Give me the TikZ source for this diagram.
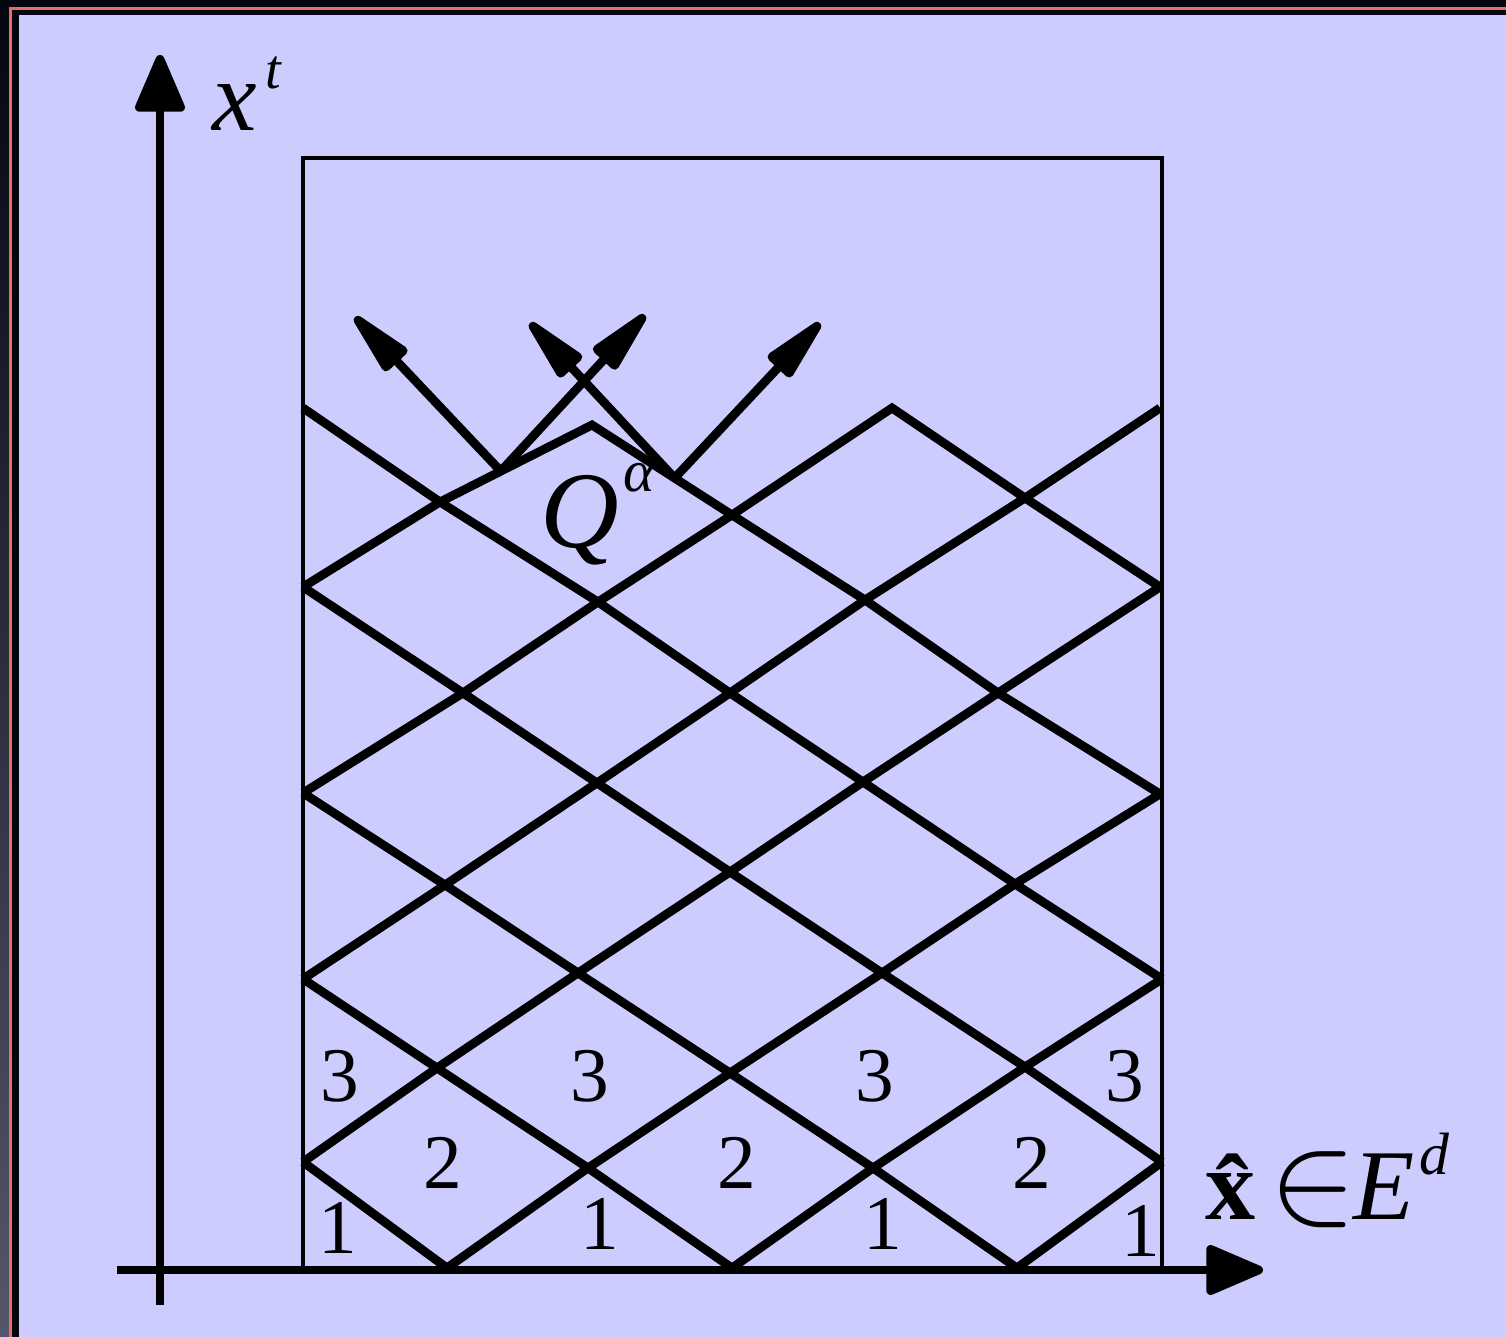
\documentclass[tikz,border=0pt]{standalone}
\usepackage{fontspec}
\usepackage{graphicx}
\setmainfont{Liberation Serif}
\usetikzlibrary{arrows.meta,calc}
\definecolor{slide}{RGB}{204,204,255}
\definecolor{rim}{RGB}{235,110,100}
\definecolor{night}{RGB}{6,6,16}
\definecolor{dusk}{RGB}{85,85,108}

\begin{document}
\begin{tikzpicture}[
    front/.style={line width=2.5pt},
    axis/.style={line width=2.5pt, -{Triangle[length=6.4mm,width=5.2mm,round]}},
    vec/.style={line width=2.5pt, -{Triangle[length=8mm,width=3.2mm,round]}},
    num/.style={font=\fontsize{22pt}{22pt}\selectfont, inner sep=0pt},
    lbl/.style={font=\fontsize{28.5pt}{30pt}\selectfont, inner sep=0pt, anchor=base west}]
    \useasboundingbox (0,0) rectangle (15.06,13.37);
    \fill[night] (0,0) rectangle (15.06,13.37);
    \shade[top color=night, bottom color=dusk] (0,0) rectangle (0.09,13.37);
    \draw[rim, line width=0.03cm] (0.105,-0.1) |- (15.2,13.285);
    \fill[slide] (0.19,0) rectangle (15.06,13.22);

    % domain
    \draw[line width=1pt] (3.03,0.69) rectangle (11.62,11.79);

    % axes
    \coordinate (yb) at (1.60,0.32);
    \coordinate (yt) at (1.60,12.82);
    \coordinate (xl) at (1.17,0.67);
    \coordinate (xr) at (12.63,0.67);
    \draw[axis] (yb) -- (yt);
    \draw[axis] (xl) -- (xr);

    % tent vertices: column-level
    \foreach \n/\x/\y in {1-0/4.47/0.69, 3-0/7.32/0.69, 5-0/10.17/0.69,
        0-1/3.03/1.75, 2-1/5.88/1.69, 4-1/8.73/1.69, 6-1/11.62/1.75,
        1-2/4.37/2.69, 3-2/7.30/2.64, 5-2/10.25/2.70,
        0-3/3.03/3.58, 2-3/5.78/3.64, 4-3/8.82/3.64, 6-3/11.62/3.58,
        1-4/4.45/4.52, 3-4/7.30/4.65, 5-4/10.15/4.53,
        0-5/3.03/5.44, 2-5/5.97/5.54, 4-5/8.63/5.55, 6-5/11.60/5.43,
        1-6/4.63/6.44, 3-6/7.30/6.44, 5-6/9.98/6.44,
        0-7/3.03/7.50, 2-7/5.98/7.35, 4-7/8.65/7.37, 6-7/11.60/7.50,
        1-8/4.40/8.35, 3-8/7.32/8.22, 5-8/10.25/8.39,
        0-9/3.03/9.29, 2-9/5.92/9.12, 4-9/8.92/9.29, 6-9/11.60/9.29}
        \coordinate (v\n) at (\x,\y);

    \foreach \ev/\od in {1/0,1/2,3/2,3/4,5/4,5/6,7/6,7/8,9/8}
        \draw[front] (v0-\ev) -- (v1-\od) -- (v2-\ev) -- (v3-\od) -- (v4-\ev) -- (v5-\od) -- (v6-\ev);

    % layer numbers
    \foreach \x/\y/\k [count=\c] in {3.38/1.09/1, 6.00/1.13/1, 8.83/1.13/1, 11.41/1.06/1,
        4.43/1.74/2, 7.37/1.74/2, 10.32/1.74/2,
        3.40/2.61/3, 5.90/2.61/3, 8.75/2.61/3, 11.25/2.61/3}
        \node[num] (tent\c) at (\x,\y) {\k};

    % characteristics out of the new tent
    \coordinate (qa) at ($(v1-8)!0.40!(v2-9)$);
    \coordinate (qb) at ($(v2-9)!0.59!(v3-8)$);
    \coordinate (qa1) at (3.55,10.20);
    \coordinate (qa2) at (6.45,10.22);
    \coordinate (qb1) at (5.30,10.14);
    \coordinate (qb2) at (8.20,10.14);
    \draw[vec] (qa) -- (qa1);
    \draw[vec] (qa) -- (qa2);
    \draw[vec] (qb) -- (qb1);
    \draw[vec] (qb) -- (qb2);

    \node[lbl, font=\fontsize{31pt}{32pt}\selectfont] (qlab) at (5.40,7.89) {\itshape Q\hspace{0.04em}\raisebox{0.52em}{\fontsize{17pt}{17pt}\selectfont α}};
    \node[lbl] (tlab) at (2.12,12.06) {\itshape x\hspace{0.08em}\raisebox{0.42em}{\fontsize{16pt}{16pt}\selectfont t}};
    \node[lbl] (xlab) at (12.05,1.17) {\bfseries\^{x}\hspace{0.14em}\mdseries\raisebox{-0.03em}{\scalebox{1.5}{$\in$}}\hspace{-0.04em}\itshape E\hspace{0.05em}\raisebox{0.45em}{\fontsize{17pt}{17pt}\selectfont d}};
\end{tikzpicture}
\end{document}
